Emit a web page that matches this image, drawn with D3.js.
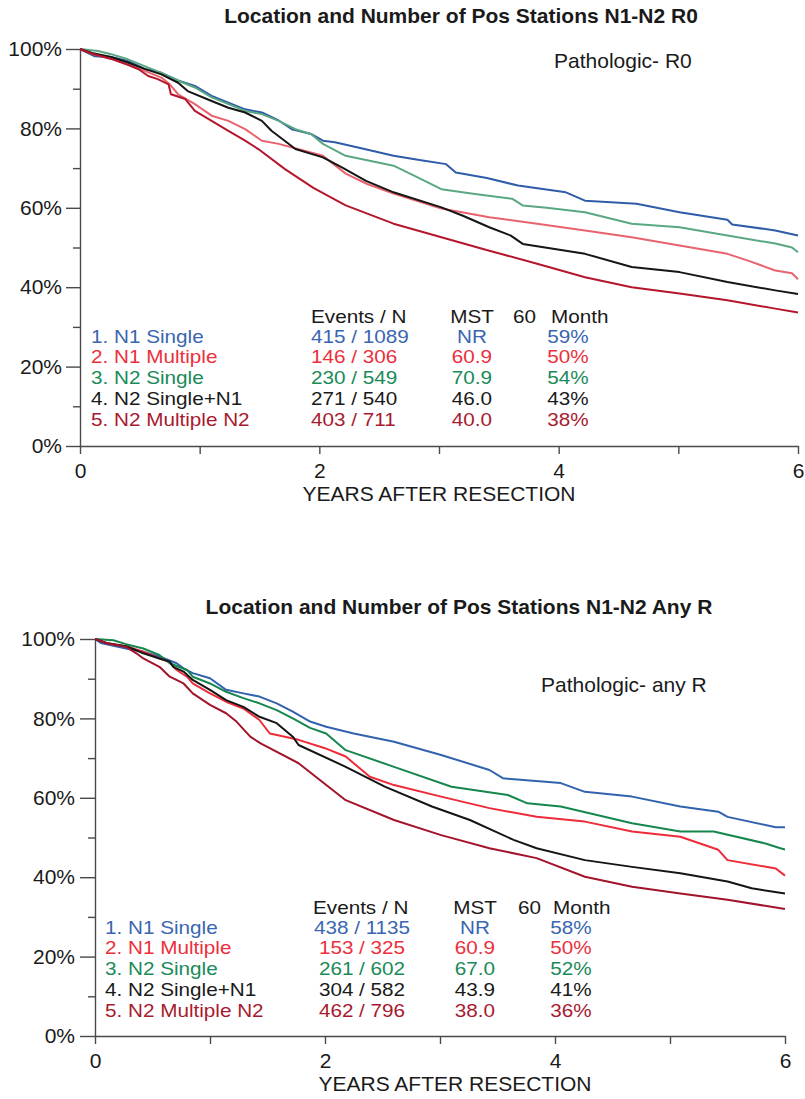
<!DOCTYPE html>
<html>
<head>
<meta charset="utf-8">
<script src="https://cdn.jsdelivr.net/npm/d3@7"></script>
<style>
	body { margin: 0; background: #fff; }
	svg text { font-family: "Liberation Sans", Arial, Helvetica, sans-serif; }
</style>
</head>
<body>
<div id="chart"></div>
<script>
// survival curves: [years, % surviving]
var topN1Single = [[0,100],[0.05,99.2],[0.12,98.2],[0.26,98],[0.4,97],[0.54,95],[0.68,94],[0.82,92.1],[0.96,90.7],[1.1,88.2],[1.24,86.5],[1.38,84.8],[1.52,84],[1.66,82],[1.77,79.8],[1.93,78.6],[2.03,76.9],[2.13,76.5],[2.35,75],[2.62,73.1],[2.85,72],[3.06,71],[3.14,68.9],[3.4,67.5],[3.66,65.6],[4.06,63.9],[4.22,61.8],[4.65,61],[5.01,58.9],[5.41,57],[5.45,55.8],[5.81,54.3],[6,53]];
var topN1Multiple = [[0,100],[0.1,98.8],[0.26,97.6],[0.4,96.1],[0.54,94.5],[0.68,92.8],[0.75,91.1],[0.82,88.6],[0.96,86.1],[1.1,83.2],[1.24,81.9],[1.38,79.8],[1.52,76.9],[1.66,76.1],[1.82,74.8],[2.03,73.1],[2.22,68.6],[2.4,66],[2.62,63.6],[3.02,59.8],[3.42,57.6],[3.82,56],[4.22,54.3],[4.61,52.6],[5.01,50.5],[5.41,48.4],[5.6,46.5],[5.81,44.2],[5.95,43.5],[6,42]];
var topN2Single = [[0,100],[0.15,99.5],[0.26,98.7],[0.4,97.4],[0.54,95.7],[0.68,94],[0.82,92],[0.96,90.3],[1.1,87.8],[1.24,86.1],[1.38,84.4],[1.52,83.6],[1.66,81.9],[1.8,79.8],[1.93,78.6],[2.03,76.1],[2.22,73.1],[2.62,70.6],[2.8,68],[3.02,64.7],[3.3,63.5],[3.61,62.3],[3.7,60.6],[3.9,60],[4.22,58.9],[4.61,56],[5.01,55.1],[5.41,53],[5.81,51],[5.95,50],[6,48.8]];
var topN2SingleN1 = [[0,100],[0.1,99],[0.26,98],[0.4,96.6],[0.54,95],[0.68,93.6],[0.82,91.5],[0.9,89.4],[1.1,86.9],[1.24,85.2],[1.38,84],[1.52,81.9],[1.6,79.4],[1.71,76.9],[1.8,74.8],[2.03,72.7],[2.2,70],[2.39,66.8],[2.62,63.9],[3.02,60.1],[3.2,58],[3.42,55.1],[3.6,53],[3.7,50.9],[4.22,48.4],[4.61,45.1],[5.01,43.8],[5.41,41.3],[5.81,39.2],[6,38.3]];
var topN2MultipleN2 = [[0,100],[0.1,98.8],[0.26,97.5],[0.4,96],[0.49,94.9],[0.57,93.2],[0.65,92.4],[0.74,91.1],[0.76,88.6],[0.88,87.4],[0.96,84.4],[1.1,81.9],[1.24,79.4],[1.38,76.9],[1.49,74.8],[1.71,69.8],[1.95,65],[2.22,60.6],[2.62,56],[3.02,52.6],[3.42,49.2],[3.82,45.9],[4.22,42.5],[4.61,40],[5.01,38.4],[5.41,36.7],[5.81,34.6],[6,33.6]];

var botN1Single = [[0,100],[0.05,99],[0.13,98.5],[0.27,97.6],[0.42,96.8],[0.56,95.6],[0.71,93.9],[0.77,92.6],[0.85,91.4],[1.0,90.1],[1.14,87.2],[1.29,86.3],[1.43,85.5],[1.58,83.8],[1.72,81.7],[1.87,79.2],[2.01,77.9],[2.25,76.2],[2.6,74.1],[3.01,70.8],[3.43,67],[3.55,64.9],[4.05,63.7],[4.26,61.5],[4.67,60.3],[5.09,57.8],[5.42,56.5],[5.5,55.2],[5.92,52.6],[6,52.6]];
var botN1Multiple = [[0,100],[0.1,98.9],[0.27,98.2],[0.42,96.8],[0.56,95.1],[0.64,94.3],[0.71,92.2],[0.8,90.5],[0.85,88.8],[1.0,86.3],[1.14,84.2],[1.29,82.5],[1.43,79.6],[1.52,76.2],[1.77,74.6],[2.0,72.5],[2.18,70.4],[2.39,65.3],[2.6,63.2],[3.01,60.3],[3.43,57.4],[3.84,55.2],[4.26,54],[4.67,51.5],[5.09,50.2],[5.42,46.9],[5.5,44.3],[5.92,42.2],[6,40.4]];
var botN2Single = [[0,100],[0.16,99.7],[0.27,98.7],[0.42,97.6],[0.56,96],[0.59,95.2],[0.65,93.9],[0.8,92.2],[0.85,90.5],[1.0,88.8],[1.14,86.7],[1.29,85.1],[1.43,83.8],[1.58,82.1],[1.72,80],[1.87,77.6],[2.01,76.2],[2.18,72],[2.6,67.8],[3.1,62.8],[3.59,60.7],[3.76,58.6],[4.05,57.8],[4.67,53.6],[5.09,51.5],[5.38,51.5],[5.83,48.5],[5.96,47.3],[6,47]];
var botN2SingleN1 = [[0,100],[0.1,99],[0.27,98.2],[0.42,96.4],[0.56,95.1],[0.65,94.3],[0.68,93],[0.77,91.8],[0.85,89.7],[1.0,87.2],[1.14,84.6],[1.29,82.9],[1.43,80.4],[1.58,78.8],[1.72,75.4],[1.77,73.3],[2.18,67.8],[2.52,62.8],[2.93,57.8],[3.26,54.4],[3.64,49.4],[3.84,47.3],[4.26,44.3],[4.67,42.6],[5.09,41],[5.5,38.9],[5.71,37.2],[6,35.9]];
var botN2MultipleN2 = [[0,100],[0.1,99],[0.27,98],[0.36,96.4],[0.42,95.1],[0.56,93],[0.65,90.5],[0.77,88.8],[0.85,86.3],[1.0,83.4],[1.14,81.3],[1.23,79.2],[1.35,75.4],[1.44,73.7],[1.77,68.7],[2.18,59.4],[2.6,54.4],[3.01,50.6],[3.43,47.3],[3.84,44.8],[4.26,40.1],[4.67,37.6],[5.09,35.9],[5.5,34.3],[6,32]];

var groupNames = ["1. N1 Single", "2. N1 Multiple", "3. N2 Single", "4. N2 Single+N1", "5. N2 Multiple N2"];
var topEvents = ["415 / 1089", "146 / 306", "230 / 549", "271 / 540", "403 / 711"];
var topMST = ["NR", "60.9", "70.9", "46.0", "40.0"];
var top60Month = ["59%", "50%", "54%", "43%", "38%"];
var botEvents = ["438 / 1135", "153 / 325", "261 / 602", "304 / 582", "462 / 796"];
var botMST = ["NR", "60.9", "67.0", "43.9", "38.0"];
var bot60Month = ["58%", "50%", "52%", "41%", "36%"];

var xTicks = [0, 2, 4, 6];
var xMinorTicks = [1, 3, 5];
var yTicks = [0, 20, 40, 60, 80, 100];
var yMinorTicks = [10, 30, 50, 70, 90];

var textColors = ["#3a66b1", "#ec2f3c", "#1a8a58", "#1a1a1a", "#a81a2f"];

var width = 805;
var height = 1099;

var svg = d3.select("#chart")
	.append("svg")
	.attr("width", width)
	.attr("height", height);

var panels = [
	{
		series: [topN1Single, topN1Multiple, topN2Single, topN2SingleN1, topN2MultipleN2],
		lineColors: ["#2f5ca8", "#e8636d", "#5aa881", "#151515", "#b5162c"],
		events: topEvents, mst: topMST, month: top60Month,
		left: 80, right: 798, top: 49, bottom: 446,
		title: "Location and Number of Pos Stations N1-N2 R0", titleX: 461, titleY: 23,
		note: "Pathologic- R0", noteX: 554, noteY: 68,
		yTickSize: 14, yPad: 4,
		xLabelX: 439, xLabelY: 501,
		nameX: 91, eventsX: 311, eventsAnchor: "start", mstX: 472, monthX: 568,
		headX: [311, 472, 513, 551],
		headY: 322.7, rowY: [342.7, 363.4, 384.1, 404.8, 425.5]
	},
	{
		series: [botN1Single, botN1Multiple, botN2Single, botN2SingleN1, botN2MultipleN2],
		lineColors: ["#3162ae", "#ee2b38", "#16864f", "#151515", "#a3132a"],
		events: botEvents, mst: botMST, month: bot60Month,
		left: 95, right: 785, top: 639, bottom: 1036,
		title: "Location and Number of Pos Stations N1-N2 Any R", titleX: 459, titleY: 614,
		note: "Pathologic- any R", noteX: 541, noteY: 692,
		yTickSize: 15, yPad: 5,
		xLabelX: 455, xLabelY: 1091,
		nameX: 105, eventsX: 362, eventsAnchor: "middle", mstX: 475, monthX: 571,
		headX: [313, 475, 518, 553],
		headY: 913.7, rowY: [933.7, 954.4, 975.1, 995.8, 1016.5]
	}
];

panels.forEach(drawPanel);

function styleAxis(g) {
	g.attr("font-size", 21).attr("font-family", "Liberation Sans, Arial, sans-serif");
	g.selectAll("path, line").attr("stroke", "#4a4a4a").attr("stroke-width", 1.4);
	g.selectAll("text").attr("fill", "#1a1a1a");
}

// legend text: smaller size so the tight rows don't collide, stretched to the original width
function legendText(sel, x, y, anchor) {
	sel.attr("transform", function (d, i) {
			return "translate(" + x(d, i) + "," + y(d, i) + ") scale(1.15,1)";
		})
		.attr("text-anchor", anchor)
		.attr("font-size", 18);
}

function drawPanel(p) {
	var x = d3.scaleLinear().domain([0, 6]).range([p.left, p.right]);
	var y = d3.scaleLinear().domain([0, 100]).range([p.bottom, p.top]);

	// minor ticks first, then the labelled axes on top
	svg.append("g")
		.attr("transform", "translate(0," + p.bottom + ")")
		.call(d3.axisBottom(x).tickValues(xMinorTicks).tickSize(8).tickFormat(""))
		.call(styleAxis)
		.select(".domain").remove();

	svg.append("g")
		.attr("transform", "translate(" + p.left + ",0)")
		.call(d3.axisLeft(y).tickValues(yMinorTicks).tickSize(7).tickFormat(""))
		.call(styleAxis)
		.select(".domain").remove();

	svg.append("g")
		.attr("transform", "translate(0," + p.bottom + ")")
		.call(d3.axisBottom(x).tickValues(xTicks).tickSize(8).tickPadding(9).tickSizeOuter(0)
			.tickFormat(d3.format("d")))
		.call(styleAxis);

	svg.append("g")
		.attr("transform", "translate(" + p.left + ",0)")
		.call(d3.axisLeft(y).tickValues(yTicks).tickSize(p.yTickSize).tickPadding(p.yPad).tickSizeOuter(0)
			.tickFormat(function (d) { return d + "%"; }))
		.call(styleAxis);

	var line = d3.line()
		.x(function (d) { return x(d[0]); })
		.y(function (d) { return y(d[1]); });

	svg.append("g")
		.selectAll("path")
		.data(p.series)
		.enter()
		.append("path")
		.attr("d", line)
		.attr("fill", "none")
		.attr("stroke", function (d, i) { return p.lineColors[i]; })
		.attr("stroke-width", 2)
		.attr("stroke-linejoin", "round");

	svg.append("text")
		.attr("x", p.titleX)
		.attr("y", p.titleY)
		.attr("text-anchor", "middle")
		.attr("font-size", 21)
		.attr("font-weight", "bold")
		.attr("fill", "#1a1a1a")
		.text(p.title);

	svg.append("text")
		.attr("x", p.noteX)
		.attr("y", p.noteY)
		.attr("font-size", 21)
		.attr("fill", "#1a1a1a")
		.text(p.note);

	svg.append("text")
		.attr("x", p.xLabelX)
		.attr("y", p.xLabelY)
		.attr("text-anchor", "middle")
		.attr("font-size", 21)
		.attr("fill", "#1a1a1a")
		.text("YEARS AFTER RESECTION");

	// legend table
	var head = ["Events / N", "MST", "60", "Month"];
	var headAnchor = ["start", "middle", "start", "start"];
	svg.append("g")
		.selectAll("text")
		.data(head)
		.enter()
		.append("text")
		.attr("transform", function (d, i) {
			return "translate(" + p.headX[i] + "," + p.headY + ") scale(1.15,1)";
		})
		.attr("text-anchor", function (d, i) { return headAnchor[i]; })
		.attr("font-size", 18)
		.attr("fill", "#1a1a1a")
		.text(function (d) { return d; });

	var rows = svg.append("g")
		.selectAll("g")
		.data(groupNames)
		.enter()
		.append("g")
		.attr("fill", function (d, i) { return textColors[i]; });

	var rowY = function (d, i) { return p.rowY[i]; };

	rows.append("text")
		.call(legendText, function () { return p.nameX; }, rowY, "start")
		.text(function (d) { return d; });

	rows.append("text")
		.call(legendText, function () { return p.eventsX; }, rowY, p.eventsAnchor)
		.text(function (d, i) { return p.events[i]; });

	rows.append("text")
		.call(legendText, function () { return p.mstX; }, rowY, "middle")
		.text(function (d, i) { return p.mst[i]; });

	rows.append("text")
		.call(legendText, function () { return p.monthX; }, rowY, "middle")
		.text(function (d, i) { return p.month[i]; });
}
</script>
</body>
</html>
